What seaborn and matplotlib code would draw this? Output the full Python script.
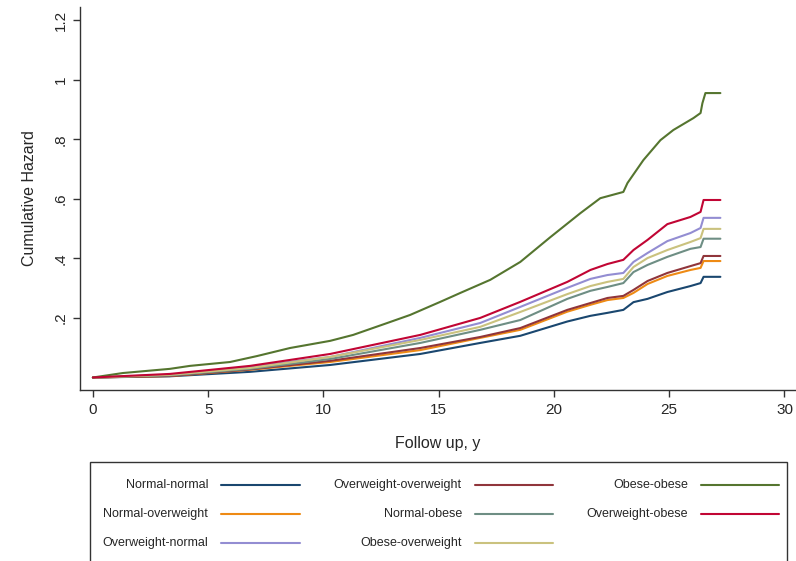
import numpy as np
import pandas as pd
import matplotlib.pyplot as plt
from matplotlib.lines import Line2D
from matplotlib.patches import Rectangle
import seaborn as sns

sns.set_style('ticks')
plt.rcParams['font.family'] = ['Liberation Sans', 'DejaVu Sans']

# ─── DATA ───────────────────────────────────────────────────────────────────
# follow-up years shared by the seven lower curves
t_grid = [0, 3.34, 6.82, 10.29, 14.20, 16.80, 18.54, 20.58, 21.58, 22.32,
          23.01, 23.45, 24.06, 24.92, 25.92, 26.36, 26.49, 27.22]

h_normal_normal = [0, 0.004, 0.019, 0.042, 0.079, 0.116, 0.140, 0.188, 0.207, 0.217,
                   0.227, 0.253, 0.264, 0.287, 0.307, 0.317, 0.338, 0.338]
h_normal_overweight = [0, 0.005, 0.026, 0.052, 0.092, 0.133, 0.160, 0.221, 0.244, 0.260,
                       0.267, 0.284, 0.314, 0.341, 0.361, 0.368, 0.391, 0.391]
h_overweight_overweight = [0, 0.005, 0.027, 0.056, 0.099, 0.136, 0.166, 0.227, 0.250, 0.267,
                           0.274, 0.294, 0.324, 0.351, 0.374, 0.384, 0.408, 0.408]
h_normal_obese = [0, 0.007, 0.029, 0.062, 0.116, 0.160, 0.193, 0.264, 0.291, 0.304,
                  0.317, 0.354, 0.378, 0.405, 0.432, 0.438, 0.466, 0.466]
h_obese_overweight = [0, 0.009, 0.032, 0.069, 0.126, 0.170, 0.220, 0.280, 0.307, 0.321,
                      0.331, 0.371, 0.401, 0.428, 0.455, 0.468, 0.499, 0.499]
h_overweight_normal = [0, 0.009, 0.036, 0.069, 0.133, 0.183, 0.237, 0.301, 0.331, 0.344,
                       0.351, 0.388, 0.418, 0.458, 0.485, 0.502, 0.536, 0.536]
h_overweight_obese = [0, 0.012, 0.039, 0.079, 0.143, 0.200, 0.254, 0.321, 0.361, 0.381,
                      0.395, 0.428, 0.462, 0.515, 0.539, 0.556, 0.596, 0.596]

# obese-obese has its own grid
t_obese_obese = [0, 1.3, 3.34, 4.21, 5.95, 7.12, 8.55, 10.29, 11.29, 12.77, 13.76, 15.07,
                 15.94, 17.24, 18.54, 19.84, 21.15, 22.01, 23.01, 23.19, 23.88, 24.62,
                 25.18, 26.05, 26.36, 26.44, 26.57, 27.22]
h_obese_obese = [0, 0.015, 0.029, 0.039, 0.052, 0.072, 0.099, 0.123, 0.143, 0.183, 0.210,
                 0.254, 0.284, 0.328, 0.388, 0.471, 0.552, 0.602, 0.623, 0.653, 0.730,
                 0.797, 0.831, 0.871, 0.888, 0.921, 0.955, 0.955]

groups = {
    'Normal-normal': (t_grid, h_normal_normal),
    'Normal-overweight': (t_grid, h_normal_overweight),
    'Overweight-normal': (t_grid, h_overweight_normal),
    'Overweight-overweight': (t_grid, h_overweight_overweight),
    'Normal-obese': (t_grid, h_normal_obese),
    'Obese-overweight': (t_grid, h_obese_overweight),
    'Obese-obese': (t_obese_obese, h_obese_obese),
    'Overweight-obese': (t_grid, h_overweight_obese),
}

# Stata s2color palette
palette = {
    'Normal-normal': '#1a476f',
    'Overweight-overweight': '#90353b',
    'Obese-obese': '#55752f',
    'Normal-overweight': '#ee8a14',
    'Normal-obese': '#6e8e84',
    'Overweight-obese': '#c10534',
    'Overweight-normal': '#938dd2',
    'Obese-overweight': '#cac27e',
}

df = pd.concat([pd.DataFrame({'t': t, 'H': h, 'group': g}) for g, (t, h) in groups.items()],
               ignore_index=True)

# ─── PLOT ────────────────────────────────────────────────────────────────────
W, H = 796, 561
fig = plt.figure(figsize=(W / 100, H / 100), dpi=100)
ax = fig.add_axes([80 / W, 1 - 390 / H, 1 - 80 / W, (390 - 7) / H])

sns.lineplot(data=df, x='t', y='H', hue='group', palette=palette, estimator=None,
             sort=False, linewidth=1.5, legend=False, ax=ax)

ax.set_xlim(-0.56, 30.5)
ax.set_ylim(-0.042, 1.244)
ax.set_xticks(range(0, 31, 5))
ax.set_yticks([0.2, 0.4, 0.6, 0.8, 1.0, 1.2])
ax.set_yticklabels(['.2', '.4', '.6', '.8', '1', '1.2'], rotation=90, va='center')
ax.tick_params(labelsize=11, length=5, width=1, color='#333333', pad=4)
ax.set_xlabel('Follow up, y', fontsize=11.5, labelpad=14)
ax.set_ylabel('Cumulative Hazard', fontsize=11.5, labelpad=12)
sns.despine(ax=ax)
for s in ['left', 'bottom']:
    ax.spines[s].set_color('#333333')
    ax.spines[s].set_linewidth(1)

# ─── LEGEND (Stata style: label then line sample) ────────────────────────────
fig.add_artist(Rectangle((90 / W, 1 - 575 / H), (787 - 90) / W, (575 - 462) / H,
                         transform=fig.transFigure, fill=False, edgecolor='#333333', lw=1))
columns = [
    (208, 221, 300, ['Normal-normal', 'Normal-overweight', 'Overweight-normal']),
    (462, 475, 553, ['Overweight-overweight', 'Normal-obese', 'Obese-overweight']),
    (688, 701, 779, ['Obese-obese', 'Overweight-obese']),
]
rows = [485, 514, 543]
for x_txt, x0, x1, names in columns:
    for name, y in zip(names, rows):
        fig.text(x_txt / W, 1 - y / H, name, ha='right', va='center', fontsize=9)
        fig.add_artist(Line2D([x0 / W, x1 / W], [1 - y / H, 1 - y / H],
                              transform=fig.transFigure, color=palette[name], lw=1.5))

plt.savefig('out.png', dpi=100)
